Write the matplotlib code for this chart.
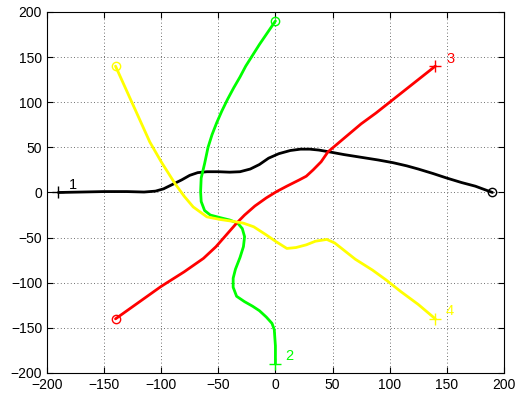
import numpy as np
import matplotlib
matplotlib.use("Agg")
import matplotlib.pyplot as plt

plt.rcParams['font.family'] = ['Liberation Sans', 'DejaVu Sans']

# path 1 (black), starts at '+', ends at 'o'
x1 = [-190, -170, -150, -130, -115, -105, -98, -90, -82, -75, -68, -60, -50, -40, -31, -22, -14, -6, 3, 13, 22, 30, 38, 45, 60, 75, 90, 103, 115, 125, 138, 150, 163, 175, 190]
y1 = [0, 0.5, 1, 1, 0.5, 1.5, 4, 9, 14, 19, 22, 23, 23, 22.5, 23, 26, 31, 38, 43, 46.5, 48, 48, 47, 45.5, 42, 39, 36, 33, 29.5, 26, 21, 16, 11, 7, 0]
# path 2 (green)
x2 = [0, 0, -1, -3, -8, -14, -20, -27, -34, -37, -37, -35, -31, -28, -27, -29, -33, -40, -48, -57, -62, -65, -65.5, -65, -62, -59, -55.5, -51.5, -47, -42, -36.5, -31, -26, -20, -14, -7, 0]
y2 = [-190, -170, -152, -145, -138, -131, -126, -121, -115, -105, -95, -85, -72, -60, -49, -40, -34, -30.5, -28, -25, -20, -10, 1, 16, 32, 50, 64, 77, 90, 103, 116, 128, 140, 152, 164, 177, 190]
# path 3 (red)
x3 = [140, 125, 112, 100, 88, 75, 60, 46, 40, 33, 27, 21, 10, 1, -8, -18, -27, -34, -43, -52, -63, -80, -100, -120, -140]
y3 = [140, 125, 112, 100, 88, 76, 60, 45, 34, 25, 18, 14, 7, 1, -6, -15, -25, -34, -47, -60, -73, -88, -104, -122, -140]
# path 4 (yellow)
x4 = [140, 125, 110, 97, 85, 70, 60, 52, 45, 35, 27, 18, 10, 0, -8, -19, -28, -37, -48, -60, -72, -80, -88, -100, -110, -120, -130, -140]
y4 = [-140, -124, -110, -97, -86, -74, -64, -56, -52, -54, -58, -61, -62, -54, -47, -38, -34, -32, -30, -27, -16, -4, 10, 34, 56, 84, 112, 140]

labels = ['1', '2', '3', '4']
label_xy = [(-177, 8), (12, -181), (153, 148), (153, -131)]
colors = ['k', (0, 1, 0), (1, 0, 0), (1, 1, 0)]

fig = plt.figure(figsize=(5.18, 3.95), dpi=100)
ax = fig.add_axes([0.0907, 0.0557, 0.882, 0.914])

paths = [(x1, y1), (x2, y2), (x3, y3), (x4, y4)]
for (xs, ys), c, lab, (lx, ly) in zip(paths, colors, labels, label_xy):
    ax.plot(xs, ys, color=c, lw=2.0, solid_capstyle='round', solid_joinstyle='round')
    ax.plot(xs[0], ys[0], '+', color=c, ms=8, mew=1.0)
    ax.plot(xs[-1], ys[-1], 'o', color=c, ms=6, mew=1.0, mfc='none')
    ax.text(lx, ly, lab, color=c, fontsize=10.5, ha='center', va='center')

ax.set_xlim(-200, 200)
ax.set_ylim(-200, 200)
ax.set_xticks(np.arange(-200, 201, 50))
ax.set_yticks(np.arange(-200, 201, 50))
ax.grid(True, linestyle=(0, (1, 3)), color='0.25', lw=0.6)
ax.tick_params(direction='in', length=4, labelsize=10, top=True, right=True)
for s in ax.spines.values():
    s.set_linewidth(0.8)

fig.savefig('out.png', dpi=100)
